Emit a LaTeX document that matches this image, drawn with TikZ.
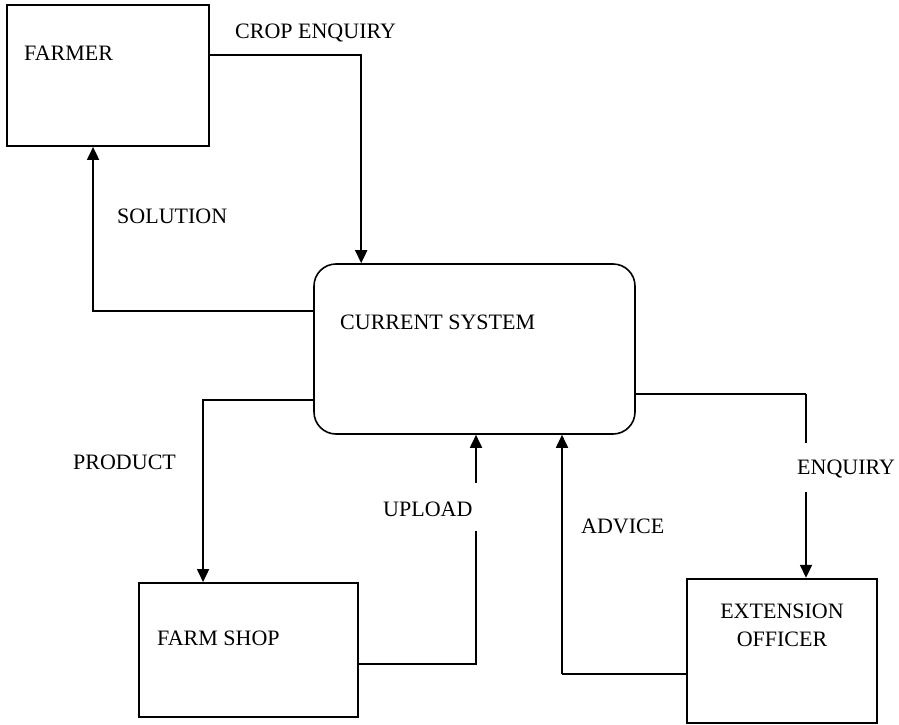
\documentclass[tikz,border=0pt]{standalone}
\usepackage{fontspec}
\setmainfont{Liberation Serif}
\usetikzlibrary{arrows.meta,calc}
\begin{document}
\begin{tikzpicture}[x=1pt,y=-1pt,
  box/.style={draw=black,line width=1.9pt,minimum width=#1,inner sep=0pt},
  lbl/.style={inner sep=0pt,anchor=base west,font=\fontsize{22}{27}\selectfont},
  flow/.style={line width=1.8pt,-{Triangle[width=12pt,length=13pt]}},
  plain/.style={line width=1.8pt},
  thin/.style={line width=1.1pt}]
\useasboundingbox (0,0) rectangle (899,725);
% boxes
\node[box=202pt,minimum height=141pt] (farmer) at (108,75.5) {};
\node[draw=black,line width=1.6pt,rounded corners=22pt,minimum width=321pt,minimum height=170pt,inner sep=0pt] (cs) at (474.5,349) {};
\node[box=219pt,minimum height=134pt] (shop) at (248.5,650) {};
\node[box=190pt,minimum height=144pt,line width=2.4pt] (ext) at (782,651) {};
% box texts
\node[lbl] (tfarmer) at (24,60) {FARMER};
\node[lbl] (tcs) at (340,329) {CURRENT SYSTEM};
\node[lbl] (tshop) at (157,645) {FARM SHOP};
\node[inner sep=0pt,align=center,anchor=base,font=\fontsize{22}{28}\selectfont] (text) at (782,646.5) {EXTENSION\\OFFICER};
% flow labels
\node[lbl] (lcrop) at (235,39) {CROP ENQUIRY};
\node[lbl] (lsol) at (117,223) {SOLUTION};
\node[lbl] (lprod) at (73,469) {PRODUCT};
\node[lbl] (lup) at (383,516) {UPLOAD};
\node[lbl] (ladv) at (581,533) {ADVICE};
\node[lbl] (lenq) at (797,474) {ENQUIRY};
% gap / corner coordinates
\coordinate (upA) at (476,531);
\coordinate (upB) at (476,483);
\coordinate (enA) at (806,443);
\coordinate (enB) at (806,492);
\coordinate (enC) at (806,394);
\coordinate (advC) at (562,674);
% connectors
\draw[flow] ($(farmer.north east)+(0,51)$) -| ($(cs.north west)+(48,0)$);
\draw[flow] ($(cs.north west)+(0,48)$) -| ($(farmer.south west)+(87,0)$);
\draw[flow] ($(cs.north west)+(0,137)$) -| ($(shop.north west)+(65,0)$);
\draw[plain] ($(shop.north east)+(0,82)$) -| (upA);
\draw[flow] (upB) -- (upB |- cs.south);
\draw[thin] (ext.west |- advC) -- (advC);
\draw[flow] (advC) -- (advC |- cs.south);
\draw[thin] (cs.east |- enC) -- (enC);
\draw[plain] (enC) -- (enA);
\draw[flow] (enB) -- (enB |- ext.north);
\end{tikzpicture}
\end{document}
